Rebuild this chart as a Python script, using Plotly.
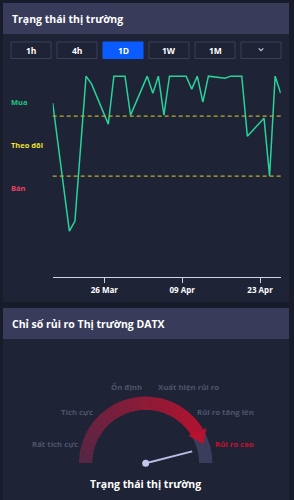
import plotly.graph_objects as go

# ---------------- data ----------------
dates = ["2024-03-16", "2024-03-19", "2024-03-20", "2024-03-22", "2024-03-23",
         "2024-03-26", "2024-03-27", "2024-03-29", "2024-03-30",
         "2024-04-02", "2024-04-03", "2024-04-04", "2024-04-05", "2024-04-06",
         "2024-04-09", "2024-04-10", "2024-04-11", "2024-04-12", "2024-04-13",
         "2024-04-16", "2024-04-17", "2024-04-19", "2024-04-20", "2024-04-23",
         "2024-04-24", "2024-04-25", "2024-04-26"]
scores = [43, -85, -75, 70, 62, 22, 70, 70, 31, 70, 53, 70, 31, 70, 70, 57, 70,
          44, 70, 68, 70, 70, 10, 28, -30, 70, 53]
buy_threshold = 30
sell_threshold = -30
zone_labels = ["Mua", "Theo dõi", "Bán"]
zone_label_values = [44, 1, -42]
tick_dates = ["2024-03-26", "2024-04-09", "2024-04-23"]
tick_labels = ["26 Mar", "09 Apr", "23 Apr"]
timeframes = ["1h", "4h", "1D", "1W", "1M"]
active_timeframe = "1D"
gauge_labels = ["Rất tích cực", "Tích cực", "Ổn định", "Xuất hiện rủi ro",
                "Rủi ro tăng lên", "Rủi ro cao"]
gauge_value = 92  # 0..100 risk index

W, H = 294, 500
def px(x):
    return x / W
def py(y):
    return 1 - y / H

BG = "#181b29"
CARD = "#1f2336"
HEAD = "#383c5a"
FONT = "Open Sans"

times = [d + " 17:00" for d in dates]

fig = go.Figure()
fig.add_trace(go.Scatter(x=times, y=scores, mode="lines",
                         line=dict(color="#27d39a", width=1.5),
                         hoverinfo="skip", showlegend=False))

shapes = []
annotations = []

# cards
shapes.append(dict(type="rect", xref="paper", yref="paper", x0=px(3), x1=px(289),
                   y0=py(302), y1=py(3), fillcolor=CARD, line=dict(width=0), layer="below"))
shapes.append(dict(type="rect", xref="paper", yref="paper", x0=px(3), x1=px(289),
                   y0=py(3), y1=py(34), fillcolor=HEAD, line=dict(width=0), layer="below"))
shapes.append(dict(type="rect", xref="paper", yref="paper", x0=px(3), x1=px(289),
                   y0=py(500), y1=py(308), fillcolor=CARD, line=dict(width=0), layer="below"))
shapes.append(dict(type="rect", xref="paper", yref="paper", x0=px(3), x1=px(289),
                   y0=py(308), y1=py(339), fillcolor=HEAD, line=dict(width=0), layer="below"))

annotations.append(dict(text="<b>Trạng thái thị trường</b>", xref="paper", yref="paper",
                        x=px(10), y=py(19), xanchor="left", yanchor="middle",
                        showarrow=False, font=dict(size=10.5, color="#ffffff", family=FONT)))
annotations.append(dict(text="<b>Chỉ số rủi ro Thị trường DATX</b>", xref="paper", yref="paper",
                        x=px(10), y=py(324), xanchor="left", yanchor="middle",
                        showarrow=False, font=dict(size=10.5, color="#ffffff", family=FONT)))

# timeframe buttons
bx0 = 11
for i, tf in enumerate(timeframes + [""]):
    x0 = bx0 + i * 46
    x1 = x0 + 40
    active = tf == active_timeframe
    shapes.append(dict(type="rect", xref="paper", yref="paper", x0=px(x0), x1=px(x1),
                       y0=py(58.5), y1=py(42),
                       fillcolor="#0b5cff" if active else "rgba(0,0,0,0)",
                       line=dict(color="#0b5cff" if active else "#3b4058", width=1)))
    if tf:
        annotations.append(dict(text="<b>%s</b>" % tf, xref="paper", yref="paper",
                                x=px((x0 + x1) / 2), y=py(50.5), xanchor="center", yanchor="middle",
                                showarrow=False, font=dict(size=8.5, color="#ffffff", family=FONT)))
    else:
        cx = (x0 + x1) / 2
        shapes.append(dict(type="path", xref="paper", yref="paper",
                           path="M %f,%f L %f,%f L %f,%f" % (px(cx - 2.3), py(48.3), px(cx), py(50.6),
                                                          px(cx + 2.3), py(48.3)),
                           line=dict(color="#c4c8dc", width=1.2)))

# threshold lines
for v in (buy_threshold, sell_threshold):
    shapes.append(dict(type="line", xref="x domain", yref="y", x0=0, x1=1, y0=v, y1=v,
                       line=dict(color="#b6b02a", width=1.2, dash="4px,3px")))

zone_colors = ["#20c482", "#f2e232", "#e8415f"]
for lab, v, c in zip(zone_labels, zone_label_values, zone_colors):
    annotations.append(dict(text="<b>%s</b>" % lab, xref="paper", yref="y", x=px(9), y=v,
                            xanchor="left", yanchor="middle", showarrow=False,
                            font=dict(size=7.5, color=c, family=FONT)))

# ---------------- gauge ----------------
R_OUT, R_IN = 66.7, 53.4
RMAX = 72
red_end = 31
n_seg = 75
c0 = (0x55, 0x27, 0x45)
c1 = (0xb5, 0x13, 0x2f)
thetas, cols = [], []
step = (180 - red_end) / n_seg
for i in range(n_seg):
    t = red_end + step * (i + 0.5)
    f = (t - red_end) / (180 - red_end)
    col = tuple(int(round(c1[k] + (c0[k] - c1[k]) * f)) for k in range(3))
    thetas.append(t)
    cols.append("rgb(%d,%d,%d)" % col)
fig.add_trace(go.Barpolar(r=[R_OUT - R_IN] * n_seg, base=[R_IN] * n_seg, theta=thetas,
                          width=[step * 1.15] * n_seg, marker=dict(color=cols, line=dict(width=0)),
                          subplot="polar", hoverinfo="skip", showlegend=False))
fig.add_trace(go.Barpolar(r=[R_OUT - R_IN], base=[R_IN], theta=[red_end / 2], width=[red_end],
                          marker=dict(color="#3a3e5c", line=dict(width=0)),
                          subplot="polar", hoverinfo="skip", showlegend=False))
fig.add_trace(go.Scatterpolar(r=[51, 70, 61, 51], theta=[33, 30, 18, 33], mode="lines",
                              fill="toself", fillcolor="#b5132f", line=dict(width=0, color="#b5132f"),
                              subplot="polar", hoverinfo="skip", showlegend=False))
needle_angle = 180 - gauge_value * 1.8
fig.add_trace(go.Scatterpolar(r=[0, 48], theta=[needle_angle, needle_angle], mode="lines",
                              line=dict(color="#b9bde3", width=2),
                              subplot="polar", hoverinfo="skip", showlegend=False))
fig.add_trace(go.Scatterpolar(r=[0], theta=[0], mode="markers",
                              marker=dict(color="#c3c6ea", size=7),
                              subplot="polar", hoverinfo="skip", showlegend=False))

gcx, gcy = 145.7, 463.3
label_pos = [(54.5, 444.3), (77.2, 412), (126.2, 387.3), (188.5, 387.3), (225.3, 412), (234.8, 444.3)]
for i, (lab, (lx, ly)) in enumerate(zip(gauge_labels, label_pos)):
    active = i == len(gauge_labels) - 1
    annotations.append(dict(text="<b>%s</b>" % lab, xref="paper", yref="paper", x=px(lx), y=py(ly),
                            xanchor="center", yanchor="middle", showarrow=False,
                            font=dict(size=7.8, color="#c8102e" if active else "#4f546c", family=FONT)))
annotations.append(dict(text="<b>Trạng thái thị trường</b>", xref="paper", yref="paper",
                        x=px(145.7), y=py(484.3), xanchor="center", yanchor="middle",
                        showarrow=False, font=dict(size=10.5, color="#ffffff", family=FONT)))

fig.update_layout(
    width=W, height=H, autosize=False,
    margin=dict(l=0, r=0, t=0, b=0, pad=0),
    paper_bgcolor=BG, plot_bgcolor="rgba(0,0,0,0)",
    font=dict(family=FONT, color="#ffffff"),
    showlegend=False,
    xaxis=dict(domain=[px(52.7), px(280.7)], type="date",
               range=[times[0], times[-1]],
               tickvals=tick_dates, ticktext=["<b>%s</b>" % t for t in tick_labels],
               ticks="outside", ticklen=5, tickcolor="#d0d2dc", tickwidth=1,
               showline=True, linecolor="#d0d2dc", linewidth=1,
               showgrid=False, zeroline=False,
               tickfont=dict(size=8, color="#ffffff", family=FONT), fixedrange=True),
    yaxis=dict(domain=[py(277), py(65)], range=[146.15 - 277, 146.15 - 65],
               visible=False, showgrid=False, zeroline=False, fixedrange=True),
    polar=dict(domain=dict(x=[px(gcx - RMAX), px(gcx + RMAX)], y=[py(gcy), py(gcy - RMAX)]),
               sector=[0, 180], bgcolor="rgba(0,0,0,0)", hole=0,
               radialaxis=dict(range=[0, RMAX], visible=False, showgrid=False),
               angularaxis=dict(visible=False, showgrid=False, rotation=0,
                                direction="counterclockwise"),
               barmode="overlay"),
    shapes=shapes, annotations=annotations,
)

fig.write_html("out.html", config={"displayModeBar": False})
